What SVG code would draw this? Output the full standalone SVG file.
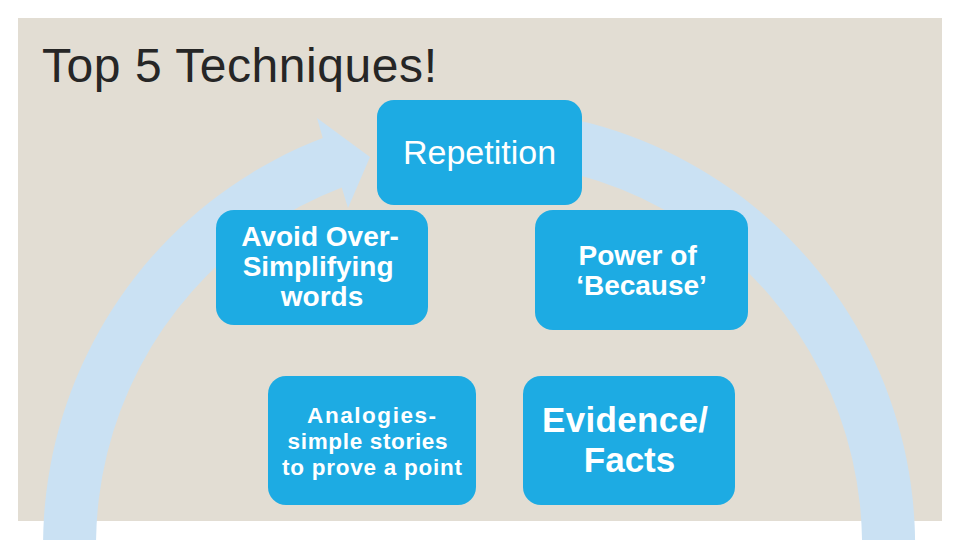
<svg xmlns="http://www.w3.org/2000/svg" width="960" height="540" viewBox="0 0 960 540">
  <style>
    .box { fill: #1DABE3; }
    .lbl { fill: #FFFFFF; font-family: "Liberation Sans", Arial, sans-serif; text-anchor: middle; }
    .b { font-weight: bold; }
    .title { fill: #262626; font-family: "Liberation Sans", Arial, sans-serif; font-size: 48px; }
    .arc { fill: #CAE1F3; }
  </style>
  <rect x="0" y="0" width="960" height="540" fill="#FFFFFF"/>
  <rect x="18" y="18" width="924" height="503" fill="#E2DDD3"/>
  <text class="title" x="42" y="82" textLength="395" lengthAdjust="spacing">Top 5 Techniques!</text>

  <g id="connectors">
    <path class="arc" d="M 539.7 113.2 A 436 436 0 1 1 322.75 137.96 L 317 118 L 370 157 L 348 208 L 341.74 187.44 A 383 383 0 1 0 532.3 165.7 Z"/>
  </g>

  <g id="node-repetition">
    <rect class="box" x="377" y="100" width="205" height="105" rx="17"/>
    <text class="lbl" x="479.5" y="164" font-size="34">Repetition</text>
  </g>

  <g id="node-avoid">
    <rect class="box" x="216" y="210" width="212" height="115" rx="18"/>
    <text class="lbl b" font-size="28">
      <tspan x="324" y="246">Avoid Over-</tspan>
      <tspan x="322" y="276">Simplifying</tspan>
      <tspan x="322" y="306">words</tspan>
    </text>
  </g>

  <g id="node-because">
    <rect class="box" x="535" y="210" width="213" height="120" rx="18"/>
    <text class="lbl b" font-size="28">
      <tspan x="641.5" y="265">Power of</tspan>
      <tspan x="641.5" y="295">‘Because’</tspan>
    </text>
  </g>

  <g id="node-analogies">
    <rect class="box" x="268" y="376" width="208" height="129" rx="18"/>
    <text class="lbl b" font-size="22.5">
      <tspan x="375.5" y="423" textLength="129" lengthAdjust="spacing">Analogies-</tspan>
      <tspan x="371" y="449" textLength="160" lengthAdjust="spacing">simple stories</tspan>
      <tspan x="372" y="475" textLength="180" lengthAdjust="spacing">to prove a point</tspan>
    </text>
  </g>

  <g id="node-evidence">
    <rect class="box" x="523" y="376" width="212" height="129" rx="18"/>
    <text class="lbl b" font-size="35">
      <tspan x="630" y="432" textLength="166" lengthAdjust="spacing">Evidence/</tspan>
      <tspan x="629.5" y="472">Facts</tspan>
    </text>
  </g>
</svg>
